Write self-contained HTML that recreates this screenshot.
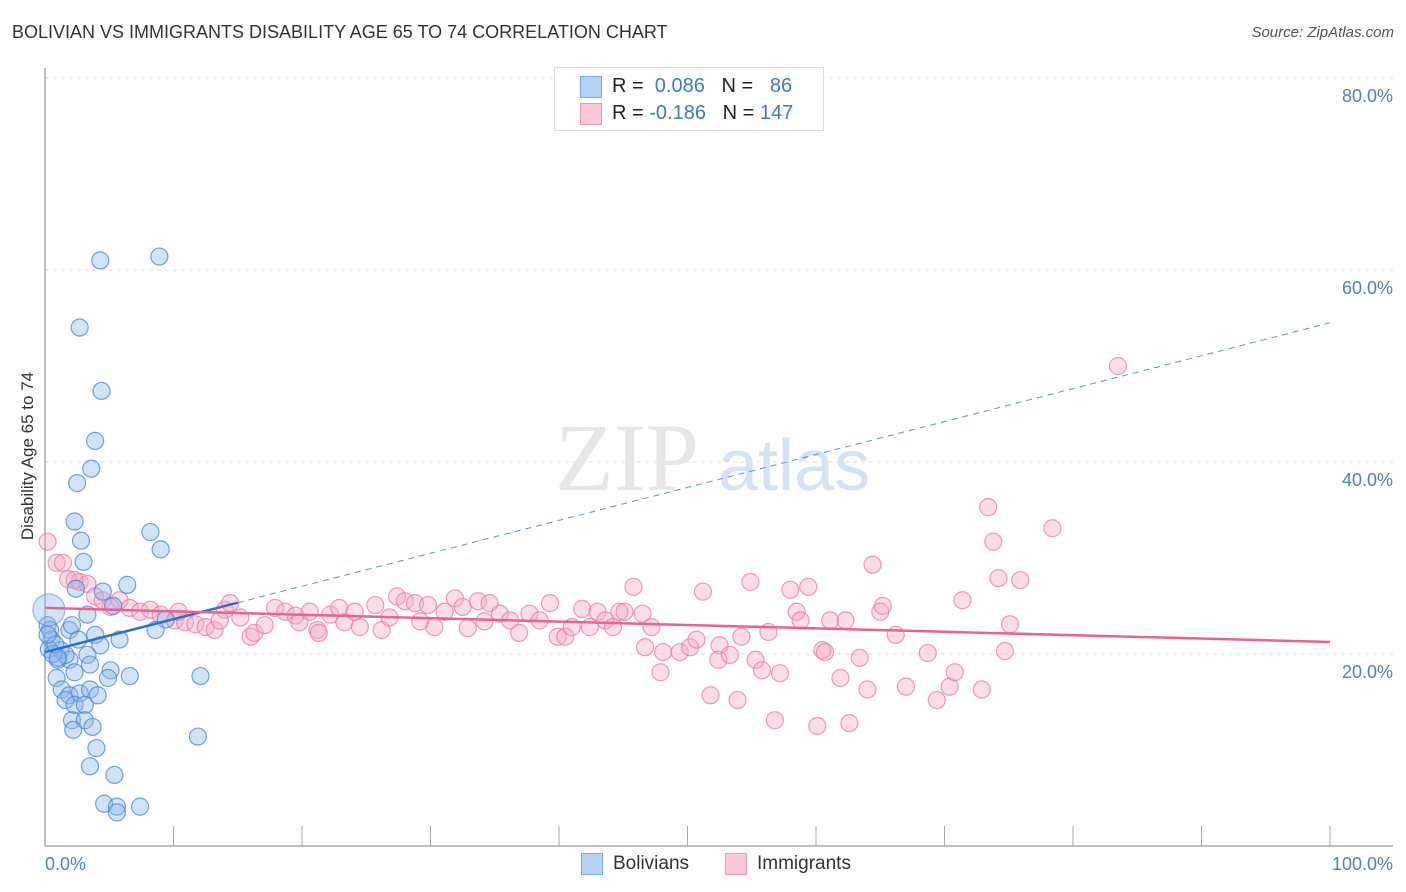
<!DOCTYPE html>
<html><head><meta charset="utf-8">
<style>
body{margin:0;background:#fff;font-family:"Liberation Sans",sans-serif;}
#wrap{position:relative;width:1406px;height:892px;overflow:hidden;}
.t{position:absolute;white-space:nowrap;}
</style></head><body>
<div id="wrap">
<div class="t" style="left:12px;top:22px;font-size:18px;color:#333;">BOLIVIAN VS IMMIGRANTS DISABILITY AGE 65 TO 74 CORRELATION CHART</div>
<div class="t" style="right:12px;top:24px;font-size:15px;color:#555;font-style:italic;">Source: ZipAtlas.com</div>
<svg id="svg" width="1406" height="892" style="position:absolute;left:0;top:0"></svg>
</div>
<script>
const blueX=[4.3,8.9,2.7,4.4,3.9,3.6,2.5,2.3,2.8,3.0,8.2,9.0,6.4,4.5,5.3,2.4,9.4,8.6,3.3,1.9,0.2,0.5,1.2,1.9,1.0,3.9,4.3,5.8,3.3,2.3,3.5,5.1,6.6,4.9,0.9,1.3,1.9,2.7,3.5,1.6,2.3,3.1,4.1,2.1,3.1,2.2,3.7,4.0,3.5,5.4,4.6,5.6,7.4,5.6,12.1,11.9,2.1,2.6,1.6,0.3,0.6,0.4,0.8,1.0,0.2];
const blueY=[61.0,61.4,54.0,47.4,42.2,39.3,37.8,33.8,31.8,29.6,32.7,30.9,27.2,26.5,25.0,26.8,23.6,22.5,24.1,22.5,23.0,21.5,20.4,19.4,19.4,22.0,20.9,21.5,19.9,18.1,18.9,18.3,17.7,17.5,17.5,16.3,15.7,15.9,16.3,15.2,14.7,14.7,15.7,13.1,13.1,12.1,12.4,10.2,8.3,7.4,4.4,4.1,4.1,3.5,17.7,11.4,23.0,21.5,19.9,20.5,20.0,22.5,21.0,19.6,22.0];
const pinkX=[0.2,0.9,1.4,1.8,2.7,3.3,2.3,3.9,4.5,5.8,5.1,6.6,7.4,8.2,9.0,10.1,10.9,11.7,12.5,10.4,13.2,14.0,14.4,15.2,16.0,16.3,17.1,17.9,18.7,19.5,19.8,20.6,21.2,21.3,22.2,22.9,23.3,24.1,24.5,25.7,26.2,26.8,27.4,28.0,28.8,29.2,29.8,30.3,31.1,31.9,32.5,32.9,33.7,34.2,34.6,35.4,36.2,36.9,37.7,38.5,39.3,39.9,40.5,41.0,41.8,42.4,43.0,43.6,44.2,44.7,45.1,45.8,46.5,47.2,46.7,48.1,47.9,49.4,50.2,50.7,51.2,51.8,52.5,52.4,53.3,53.9,54.2,54.9,55.3,55.8,56.3,56.8,57.2,58.0,58.5,58.8,59.4,60.1,60.5,60.7,61.1,61.9,62.3,62.6,63.4,64.0,64.4,65.0,65.2,66.2,67.0,68.7,69.4,70.4,70.8,71.4,73.4,73.8,72.9,74.2,74.7,75.1,75.9,78.4,83.5,13.6];
const pinkY=[31.7,29.5,29.5,27.8,27.5,27.3,27.7,26.0,25.6,25.6,24.9,24.8,24.4,24.6,24.1,23.5,23.3,23.1,22.8,24.4,22.5,24.6,25.3,23.8,21.8,22.2,23.0,24.8,24.4,24.0,23.3,24.4,22.5,22.2,24.1,24.8,23.3,24.4,22.8,25.1,22.5,23.8,26.0,25.5,25.3,23.4,25.1,22.8,24.4,25.8,24.9,22.7,25.5,23.4,25.3,24.2,23.5,22.2,24.2,23.5,25.3,21.8,21.8,22.8,24.7,22.8,24.4,23.5,22.8,24.4,24.4,27.0,24.2,22.8,20.7,20.2,18.1,20.2,20.7,21.5,26.5,15.7,20.9,19.4,19.9,15.2,21.8,27.5,19.4,18.3,22.3,13.1,18.0,26.7,24.4,23.5,27.0,12.5,20.4,20.2,23.5,17.5,23.5,12.8,19.6,16.3,29.3,24.4,25.0,22.0,16.6,20.1,15.2,16.6,18.1,25.6,35.3,31.7,16.3,27.9,20.3,23.1,27.7,33.1,50.0,23.5];
const blueTrend=[20.2,54.5];   // value at x=0, x=100
const pinkTrend=[24.8,21.25];
const yTicks=[20,40,60,80];
const yTickLabels=["20.0%","40.0%","60.0%","80.0%"];
const xLabels=["0.0%","100.0%"];

const X=v=>45+v*12.85, Y=v=>846-v*9.6;
const svg=document.getElementById('svg');
const NS='http://www.w3.org/2000/svg';
function mk(tag,attrs){const e=document.createElementNS(NS,tag);for(const k in attrs)e.setAttribute(k,attrs[k]);svg.appendChild(e);return e;}
// gridlines
yTicks.forEach((t,i)=>{
 const g=mk('line',{x1:45,x2:1393,y1:Y(t),y2:Y(t),stroke:'#ddd','stroke-dasharray':'4,4'});
 
 
 const tx=mk('text',{x:1393,y:Y(t)+24,'text-anchor':'end','font-size':18,fill:'#4a7fd4','font-family':'Liberation Sans, sans-serif'});
 tx.textContent=yTickLabels[i];
 
 
});
// axes
const ay=mk('line',{x1:45,x2:45,y1:68,y2:846,stroke:'#aaa','stroke-width':1.5});


const ax=mk('line',{x1:45,x2:1393,y1:846,y2:846,stroke:'#aaa','stroke-width':1.5});


for(let i=1;i<=10;i++){const tk=mk('line',{x1:X(i*10),x2:X(i*10),y1:826,y2:846,stroke:'#aaa'});
 
 }
[[0,'start',45],[1,'end',1393]].forEach(([i,a,x])=>{const t=mk('text',{x:x,y:870,'text-anchor':a,'font-size':18,fill:'#4a7fd4','font-family':'Liberation Sans, sans-serif'});t.textContent=xLabels[i];
 
 });
const yt=mk('text',{x:0,y:0,transform:'translate(33,456) rotate(-90)','text-anchor':'middle','font-size':17,fill:'#333','font-family':'Liberation Sans, sans-serif'});
yt.textContent='Disability Age 65 to 74';


// watermark
const wm=mk('text',{x:555,y:490,'font-size':96,fill:'#e6e6e6','font-family':'Liberation Serif, serif'});wm.textContent='ZIP';


const wm2=mk('text',{x:718,y:490,'font-size':72,fill:'#d4e2f4','font-family':'Liberation Sans, sans-serif'});wm2.textContent='atlas';


// points
pinkX.forEach((x,i)=>{const c=mk('circle',{cx:X(x),cy:Y(pinkY[i]),r:8.5,fill:'rgba(248,170,195,0.4)',stroke:'rgba(235,120,160,0.75)','stroke-width':1.2});
 
 });
blueX.forEach((x,i)=>{const c=mk('circle',{cx:X(x),cy:Y(blueY[i]),r:8.5,fill:'rgba(140,185,240,0.4)',stroke:'rgba(70,130,220,0.75)','stroke-width':1.2});
 
 });
const big=mk('circle',{cx:X(0.3),cy:Y(24.6),r:16,fill:'rgba(140,185,240,0.4)',stroke:'rgba(70,130,220,0.6)'});


// trends
const bv=x=>blueTrend[0]+(blueTrend[1]-blueTrend[0])*x/100;
const tb1=mk('line',{x1:X(0),y1:Y(bv(0)),x2:X(15),y2:Y(bv(15)),stroke:'#2a6fd6','stroke-width':2.5});


const tb2=mk('line',{x1:X(15),y1:Y(bv(15)),x2:X(100),y2:Y(bv(100)),stroke:'#5a8fdc','stroke-width':1,'stroke-dasharray':'6,5'});


const tp=mk('line',{x1:X(0),y1:Y(pinkTrend[0]),x2:X(100),y2:Y(pinkTrend[1]),stroke:'#e8648f','stroke-width':2.5});


</script>
<div class="t" style="left:554px;top:67px;width:268px;height:62px;border:1px solid #ddd;background:#fff;">
 <div class="t" style="left:25px;top:8px;width:20px;height:20px;background:#b5d0f5;border:1px solid #7aa8e8;"></div>
 <div class="t" style="left:25px;top:35px;width:20px;height:20px;background:#fcc8d8;border:1px solid #eb96b4;"></div>
 <div class="t" style="left:57px;top:7px;font-size:20px;color:#222;">R = <span style="color:#3b78d8">&nbsp;0.086</span>&nbsp;&nbsp;&nbsp;N = <span style="color:#3b78d8">&nbsp;&nbsp;86</span></div>
 <div class="t" style="left:57px;top:34px;font-size:20px;color:#222;">R = <span style="color:#3b78d8">-0.186</span>&nbsp;&nbsp;&nbsp;N = <span style="color:#3b78d8">147</span></div>
</div>
<div class="t" style="left:581px;top:853px;width:20px;height:20px;background:#b5d0f5;border:1px solid #7aa8e8;"></div>
<div class="t" style="left:613px;top:853px;font-size:19px;color:#333;">Bolivians</div>
<div class="t" style="left:725px;top:853px;width:20px;height:20px;background:#fcc8d8;border:1px solid #eb96b4;"></div>
<div class="t" style="left:757px;top:853px;font-size:19px;color:#333;">Immigrants</div>
</body></html>
